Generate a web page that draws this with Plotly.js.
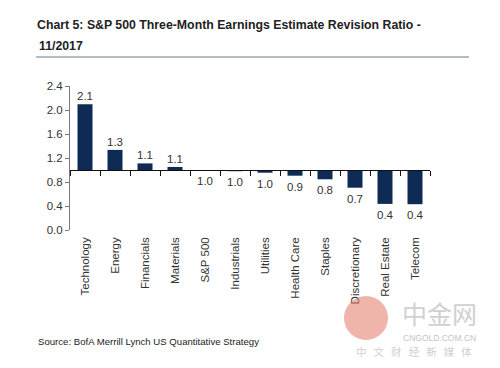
<!DOCTYPE html>
<html>
<head>
<meta charset="utf-8">
<script src="https://cdn.plot.ly/plotly-3.0.1.min.js"></script>
<style>html,body{margin:0;padding:0;background:#fff;}#chart{width:500px;height:368px;}</style>
</head>
<body>
<div id="chart"></div>
<script>
const categories = ["Technology","Energy","Financials","Materials","S&P 500","Industrials","Utilities","Health Care","Staples","Discretionary","Real Estate","Telecom"];
const ratios = [2.095, 1.335, 1.11, 1.05, 1.0, 0.98, 0.955, 0.905, 0.845, 0.705, 0.435, 0.43];
const valueLabels = ["2.1","1.3","1.1","1.1","1.0","1.0","1.0","0.9","0.8","0.7","0.4","0.4"];
const baseline = 1.0;
const yTicks = [0.0, 0.4, 0.8, 1.2, 1.6, 2.0, 2.4];

const W = 500, H = 368;
const M = {l: 70, r: 70, t: 86, b: 138};
const plotW = W - M.l - M.r, plotH = H - M.t - M.b;
const px = x => (x - M.l) / plotW;          // pixel -> paper x
const py = y => (H - M.b - y) / plotH;      // pixel -> paper y
const yMax = yTicks[yTicks.length - 1];

const txt = "#333333";
const font = "Liberation Sans, Arial, sans-serif";
const nb = "\u00a0\u00a0\u00a0";

const bars = {
  type: "bar",
  x: categories,
  y: ratios.map(v => v - baseline),
  base: baseline,
  width: 0.5,
  marker: {color: "#0d2b55", line: {width: 0}},
  hoverinfo: "skip",
  xaxis: "x", yaxis: "y"
};
const helper = {
  type: "scatter", mode: "markers",
  x: categories, y: ratios,
  marker: {opacity: 0},
  hoverinfo: "skip", showlegend: false,
  xaxis: "x2", yaxis: "y"
};

const annotations = categories.map((c, i) => ({
  x: c, y: ratios[i], xref: "x", yref: "y",
  text: valueLabels[i], showarrow: false,
  yanchor: ratios[i] > baseline ? "bottom" : "top",
  yshift: ratios[i] > baseline ? 0 : -3,
  font: {family: font, size: 11.5, color: txt}
}));

annotations.push(
  {xref: "paper", yref: "paper", x: px(37), y: py(46), xanchor: "left", yanchor: "middle",
   text: "<b>11/2017</b>", showarrow: false, font: {family: font, size: 12.3, color: "#222"}},
  {xref: "paper", yref: "paper", x: px(36), y: py(341), xanchor: "left", yanchor: "middle",
   text: "Source: BofA Merrill Lynch US Quantitative Strategy", showarrow: false,
   font: {family: font, size: 9.6, color: "#222"}},
  {xref: "paper", yref: "paper", x: px(440), y: py(313), xanchor: "center", yanchor: "middle",
   text: "中金网", showarrow: false, font: {family: "Noto Sans CJK SC", size: 25, color: "#d0d0d0"}},
  {xref: "paper", yref: "paper", x: px(440), y: py(338), xanchor: "center", yanchor: "middle",
   text: "CNGOLD.COM.CN", showarrow: false, font: {family: font, size: 8.5, color: "#c4c4c4"}},
  {xref: "paper", yref: "paper", x: px(414), y: py(351), xanchor: "center", yanchor: "middle",
   text: ["中","文","财","经","新","媒","体"].join(nb), showarrow: false,
   font: {family: "Noto Sans CJK SC", size: 10.5, color: "#cfcfcf"}}
);

const layout = {
  width: W, height: H,
  margin: M,
  paper_bgcolor: "#fff", plot_bgcolor: "rgba(0,0,0,0)",
  showlegend: false,
  title: {
    text: "<b>Chart 5: S&P 500 Three-Month Earnings Estimate Revision Ratio -</b>",
    x: 37 / W, xanchor: "left", xref: "container",
    y: 1 - 25 / H, yanchor: "middle", yref: "container",
    font: {family: font, size: 12.3, color: "#222"}
  },
  xaxis: {
    type: "category", range: [-0.5, categories.length - 0.5],
    showline: false, ticks: "", showgrid: false, zeroline: false,
    tickangle: -90, ticklabelstandoff: 4,
    tickfont: {family: font, size: 11.5, color: txt},
    anchor: "y", fixedrange: true
  },
  xaxis2: {
    type: "category", overlaying: "x", matches: "x",
    anchor: "free", position: baseline / yMax,
    showline: true, linecolor: "#111", linewidth: 1,
    ticks: "outside", ticklen: 5, tickcolor: "#111", tickwidth: 1,
    tickson: "boundaries", showticklabels: false, showgrid: false, zeroline: false
  },
  yaxis: {
    range: [0, yMax], tickvals: yTicks, tickformat: ".1f",
    showline: true, linecolor: "#7a7a7a", linewidth: 1,
    ticks: "outside", ticklen: 4, tickcolor: "#7a7a7a",
    showgrid: false, zeroline: false,
    tickfont: {family: font, size: 11.5, color: txt}
  },
  shapes: [
    {type: "line", xref: "paper", yref: "paper", x0: px(36), x1: px(469), y0: py(57), y1: py(57),
     line: {color: "#9aa6b2", width: 1.5}},
    {type: "circle", xref: "paper", yref: "paper", x0: px(344), x1: px(388), y0: py(296), y1: py(340),
     fillcolor: "rgba(226,120,100,0.55)", line: {width: 0}}
  ],
  annotations: annotations
};

Plotly.newPlot("chart", [bars, helper], layout, {staticPlot: true, displayModeBar: false});
</script>
</body>
</html>
